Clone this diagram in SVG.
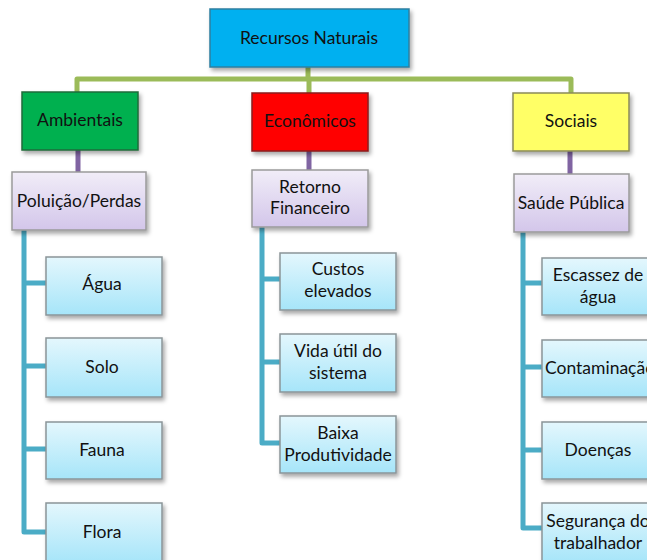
<svg xmlns="http://www.w3.org/2000/svg" width="647" height="560" viewBox="0 0 647 560">
<defs>
<filter id="sh" x="-10%" y="-10%" width="125%" height="135%">
<feDropShadow dx="2" dy="3" stdDeviation="2" flood-color="#000" flood-opacity="0.35"/>
</filter>
<linearGradient id="lav" x1="0" y1="0" x2="0" y2="1">
<stop offset="0" stop-color="#f1edf8"/>
<stop offset="1" stop-color="#d3c6ea"/>
</linearGradient>
<linearGradient id="cyan" x1="0" y1="0" x2="0" y2="1">
<stop offset="0" stop-color="#e4f7fd"/>
<stop offset="1" stop-color="#a6e5f9"/>
</linearGradient>
</defs>
<style>
text{font-family:Lato,"Open Sans","Liberation Sans",sans-serif;font-size:17.5px;fill:#111;text-anchor:middle}
.c{fill:none;stroke-width:5;stroke-linejoin:round;stroke-linecap:butt}
.g{stroke:#9bbb59}
.p{stroke:#8064a2}
.t{stroke:#4bacc6}
.l3{fill:url(#lav);stroke:#9a9a9a;stroke-width:1.5;filter:url(#sh)}
.l4{fill:url(#cyan);stroke:#8a9598;stroke-width:1.5;filter:url(#sh)}
</style>
<g id="connectors">
<path class="c g" d="M308 66 V79 M77 92 V79 H571 V93 M309 79 V93"/>
<path class="c p" d="M78 150 V172 M309 151 V170 M570 151 V174"/>
<path class="c t" d="M24 230 V532 H46 M24 283 H46 M24 366 H46 M24 449 H46"/>
<path class="c t" d="M262 227 V443 H280 M262 279 H280 M262 362 H280"/>
<path class="c t" d="M523 232 V528 H542 M523 283 H542 M523 367 H542 M523 450 H542"/>
</g>
<g id="n-root"><rect x="210" y="9" width="199" height="58" fill="#00b0f0" stroke="#2b7fa0" stroke-width="1.5" filter="url(#sh)"/><text x="309" y="44">Recursos Naturais</text></g>
<g id="n-amb"><rect x="22" y="92" width="116" height="58" fill="#00b050" stroke="#1f6b3a" stroke-width="1.5" filter="url(#sh)"/><text x="80" y="126">Ambientais</text></g>
<g id="n-eco"><rect x="252" y="93" width="116" height="58" fill="#ff0000" stroke="#8a1a1a" stroke-width="1.5" filter="url(#sh)"/><text x="310" y="127">Econômicos</text></g>
<g id="n-soc"><rect x="513" y="93" width="116" height="58" fill="#ffff66" stroke="#8a8a5a" stroke-width="1.5" filter="url(#sh)"/><text x="571" y="127">Sociais</text></g>
<g id="n-pol"><rect class="l3" x="12" y="172" width="134" height="58"/><text x="79" y="207">Poluição/Perdas</text></g>
<g id="n-ret"><rect class="l3" x="252" y="170" width="116" height="57"/><text x="310" y="193">Retorno</text><text x="310" y="214">Financeiro</text></g>
<g id="n-sau"><rect class="l3" x="514" y="174" width="115" height="58"/><text x="571" y="209">Saúde Pública</text></g>
<g id="n-agua"><rect class="l4" x="46" y="257" width="116" height="58"/><text x="102" y="290">Água</text></g>
<g id="n-solo"><rect class="l4" x="46" y="338" width="116" height="59"/><text x="102" y="373">Solo</text></g>
<g id="n-fauna"><rect class="l4" x="46" y="422" width="116" height="57"/><text x="102" y="456">Fauna</text></g>
<g id="n-flora"><rect class="l4" x="46" y="503" width="116" height="60"/><text x="102" y="538">Flora</text></g>
<g id="n-custos"><rect class="l4" x="280" y="253" width="116" height="57"/><text x="338" y="275">Custos</text><text x="338" y="297">elevados</text></g>
<g id="n-vida"><rect class="l4" x="280" y="334" width="116" height="58"/><text x="338" y="357">Vida útil do</text><text x="338" y="379">sistema</text></g>
<g id="n-baixa"><rect class="l4" x="280" y="416" width="116" height="57"/><text x="338" y="439">Baixa</text><text x="338" y="461">Produtividade</text></g>
<g id="n-esc"><rect class="l4" x="542" y="258" width="116" height="57"/><text x="598" y="281">Escassez de</text><text x="598" y="303">água</text></g>
<g id="n-cont"><rect class="l4" x="542" y="340" width="116" height="57"/><text x="545" y="374" style="text-anchor:start">Contaminação</text></g>
<g id="n-doe"><rect class="l4" x="542" y="422" width="116" height="57"/><text x="598" y="456">Doenças</text></g>
<g id="n-seg"><rect class="l4" x="542" y="503" width="116" height="60"/><text x="598" y="527">Segurança do</text><text x="598" y="549">trabalhador</text></g>
</svg>
